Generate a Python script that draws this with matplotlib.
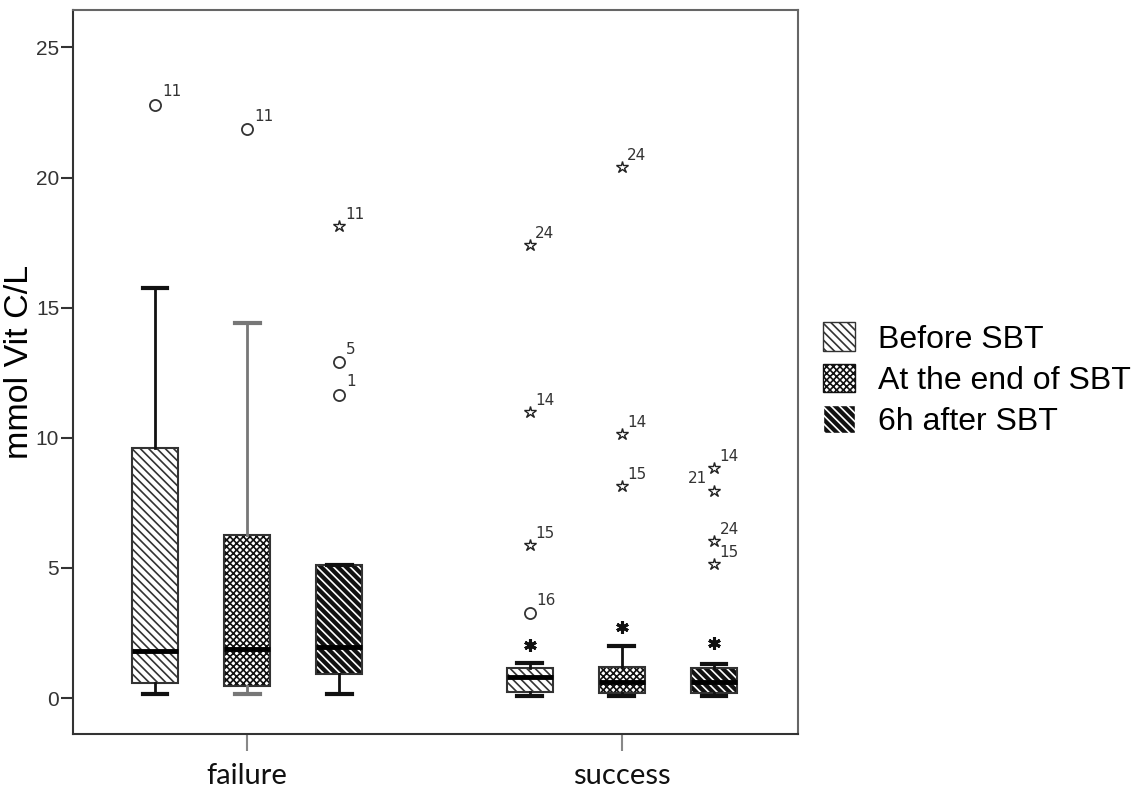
import numpy as np
import matplotlib.pyplot as plt
from matplotlib.patches import Patch

plt.rcParams['font.family'] = ['Liberation Sans', 'DejaVu Sans']

#  data
groups = ['failure', 'success']
series = ['Before SBT', 'At the end of SBT', '6h after SBT']

# box stats per group, per series: whislo, q1, med, q3, whishi
whislo = [[0.15, 0.15, 0.15], [0.08, 0.08, 0.08]]
q1 = [[0.58, 0.46, 0.92], [0.23, 0.20, 0.20]]
med = [[1.80, 1.90, 1.96], [0.80, 0.63, 0.62]]
q3 = [[9.6, 6.26, 5.1], [1.15, 1.20, 1.15]]
whishi = [[15.75, 14.4, 5.1], [1.33, 2.0, 1.30]]

# outliers (circles): group, series, value, case label
out_group = [0, 0, 0, 0, 1]
out_series = [0, 1, 2, 2, 0]
out_value = [22.8, 21.85, 12.9, 11.65, 3.26]
out_label = ['11', '11', '5', '1', '16']

# extremes (stars): group, series, value, case label
ext_group = [0, 1, 1, 1, 1, 1, 1, 1, 1, 1, 1]
ext_series = [2, 0, 0, 0, 1, 1, 1, 2, 2, 2, 2]
ext_value = [18.15, 17.4, 11.0, 5.87, 20.4, 10.15, 8.15, 8.85, 7.95, 6.03, 5.15]
ext_label = ['11', '24', '14', '15', '24', '14', '15', '14', '21', '24', '15']

# unlabelled extremes (bold asterisks)
ast_group = [1, 1, 1]
ast_series = [0, 1, 2]
ast_value = [2.03, 2.73, 2.1]

# styles
offset = 0.246
width = 0.123
faces = ['white', 'white', '#111111']
hatch_col = ['#333333', '#111111', 'white']
hatches = ['\\\\\\\\', 'xxxxx', '\\\\\\\\']

fig = plt.figure(figsize=(11.45, 7.96), dpi=100)
ax = fig.add_axes([0.0638, 0.0779, 0.633, 0.909])

def xpos(g, s):
    return g + 1 + (s - 1) * offset

plt.rcParams['hatch.linewidth'] = 1.2
for g in range(len(groups)):
    for s in range(len(series)):
        st = dict(whislo=whislo[g][s], q1=q1[g][s], med=med[g][s],
                  q3=q3[g][s], whishi=whishi[g][s], fliers=[])
        x = xpos(g, s)
        wc = '#777777' if (g == 0 and s == 1) else '#111111'
        # hatched fill
        ax.bar(x, q3[g][s] - q1[g][s], width, bottom=q1[g][s], color=faces[s],
               edgecolor=hatch_col[s], hatch=hatches[s], linewidth=0, zorder=2)
        ax.bxp([st], positions=[x], widths=width, capwidths=0.066,
               showfliers=False, patch_artist=True, manage_ticks=False,
               boxprops=dict(facecolor='none', edgecolor='#333333', linewidth=1.5),
               medianprops=dict(color='black', linewidth=3.5),
               whiskerprops=dict(color=wc, linewidth=2),
               capprops=dict(color=wc, linewidth=3),
               zorder=3)

label_kw = dict(fontsize=11, color='#333333', family='DejaVu Sans',
                textcoords='offset points')

for g, s, v, lab in zip(out_group, out_series, out_value, out_label):
    x = xpos(g, s)
    ax.plot(x, v, marker='o', ms=8, mfc='none', mec='#333333', mew=1.3, zorder=4)
    ax.annotate(lab, (x, v), xytext=(5, 4), ha='left', va='bottom', **label_kw)

for g, s, v, lab in zip(ext_group, ext_series, ext_value, ext_label):
    x = xpos(g, s)
    ax.plot(x, v, marker='*', ms=9, mfc='none', mec='#222222', mew=1.0, zorder=4)
    if lab == '21':
        ax.annotate(lab, (x, v), xytext=(-5, 4), ha='right', va='bottom', **label_kw)
    else:
        ax.annotate(lab, (x, v), xytext=(4, 3), ha='left', va='bottom', **label_kw)

for g, s, v in zip(ast_group, ast_series, ast_value):
    ax.plot(xpos(g, s), v, marker=(6, 2, 0), ms=9, mec='#111111', mew=2.2, zorder=4)

ax.set_xlim(0.535, 2.47)
ax.set_ylim(-1.38, 26.42)
ax.set_xticks([1, 2])
ax.set_xticklabels(groups, family=['Lato', 'DejaVu Sans'], fontsize=21)
ax.set_yticks([0, 5, 10, 15, 20, 25])
ax.tick_params(axis='y', labelsize=15, length=9, width=1.5, color='#333333',
               labelcolor='#333333', pad=1)
ax.tick_params(axis='x', length=12, width=1.5, color='#888888', pad=9,
               labelcolor='#111111')
ax.set_ylabel('mmol Vit C/L', fontsize=24.5)
ax.yaxis.set_label_coords(-0.052, 0.514)
for side in ['left', 'bottom']:
    ax.spines[side].set_color('#333333')
    ax.spines[side].set_linewidth(1.5)
for side in ['top', 'right']:
    ax.spines[side].set_color('#666666')
    ax.spines[side].set_linewidth(1.5)

handles = [Patch(facecolor=faces[i], edgecolor=hatch_col[i], hatch=hatches[i],
                 linewidth=0) for i in range(3)]
leg = fig.legend(handles, series, loc='center left', bbox_to_anchor=(0.694, 0.523),
                 frameon=False, fontsize=23, handlelength=1.0, handleheight=1.0,
                 handletextpad=0.7, labelspacing=0.28)
for h in leg.legend_handles:
    h.set_linewidth(1.0)

plt.savefig('out.png', dpi=100)
